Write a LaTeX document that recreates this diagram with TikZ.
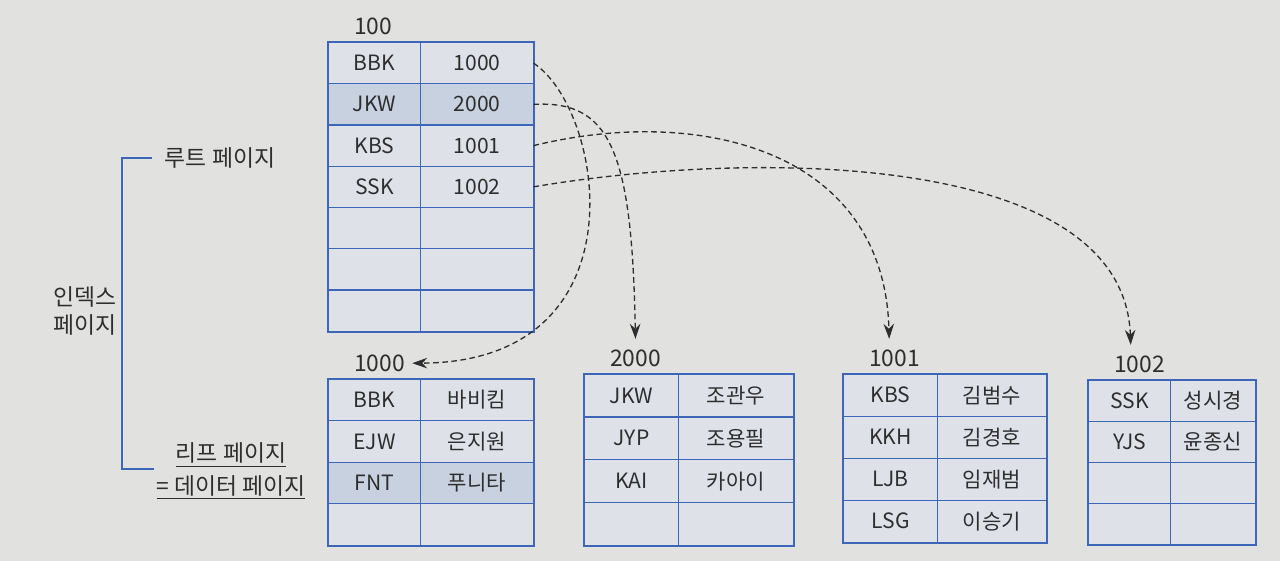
\documentclass[tikz,border=0pt]{standalone}
\usepackage{fontspec}
\setmainfont{Noto Sans CJK KR}
\usepackage{tikz}
\usetikzlibrary{
  matrix,
  arrows.meta,
  positioning
}
\definecolor{pageblue}{HTML}{3D66B8}
\definecolor{cellfill}{HTML}{DEE2E8}
\definecolor{rowmark}{HTML}{C8D1E0}
\definecolor{paper}{HTML}{E1E1DF}
\definecolor{inkgray}{HTML}{2E2E2E}
\tikzstyle{pagetable} = [
  matrix of nodes, nodes in empty cells,
  inner sep=0pt, outer sep=0pt, row sep=-0.6pt, column sep=-0.6pt,
  nodes={draw=pageblue, line width=0.6pt, fill=cellfill, inner sep=0pt,
    outer sep=0pt, anchor=center, text=inkgray,
    font=\fontsize{12}{14}\selectfont}
]
\tikzstyle{tableframe} = [draw=pageblue, line width=1.1pt]
\tikzstyle{pagelabel} = [inner sep=1pt, text=inkgray, font=\fontsize{13}{15}\selectfont]
\tikzstyle{sidelabel} = [inner sep=1pt, text=inkgray, font=\fontsize{13}{16}\selectfont]
\tikzstyle{bracket} = [draw=pageblue, line width=1pt]
\tikzstyle{pointer} = [-{Stealth[length=3mm,width=2.1mm]}, draw=inkgray,
  line width=0.75pt, dash pattern=on 3.2pt off 2pt]

\begin{document}
\begin{tikzpicture}[x=0.02cm, y=-0.02cm]

\fill[paper] (0,0) rectangle (1280,561);
\useasboundingbox (0,0) rectangle (1280,561);

% --- Index (root) page ---
\matrix (root) [pagetable, anchor=north west,
  column 1/.style={nodes={minimum width=1.84cm}},
  column 2/.style={nodes={minimum width=2.26cm}},
  row 2/.style={nodes={fill=rowmark}},
  nodes={minimum height=0.825cm}] at (328,42) {
  BBK & 1000 \\
  JKW & 2000 \\
  KBS & 1001 \\
  SSK & 1002 \\
      &      \\
      &      \\
      &      \\
};
\draw[tableframe] (root.north west) rectangle (root.south east);

% --- Leaf (data) pages ---
\matrix (t1000) [pagetable, below right=0.94cm and 0cm of root.south west,
  column 1/.style={nodes={minimum width=1.84cm}},
  column 2/.style={nodes={minimum width=2.26cm}},
  row 3/.style={nodes={fill=rowmark}},
  nodes={minimum height=0.83cm}] {
  BBK & 바비킴 \\
  EJW & 은지원 \\
  FNT & 푸니타 \\
      &        \\
};
\draw[tableframe] (t1000.north west) rectangle (t1000.south east);

\matrix (t2000) [pagetable, right=1cm of t1000.north east, anchor=north west, yshift=0.1cm,
  column 1/.style={nodes={minimum width=1.88cm}},
  column 2/.style={nodes={minimum width=2.3cm}},
  nodes={minimum height=0.855cm}] {
  JKW & 조관우 \\
  JYP & 조용필 \\
  KAI & 카아이 \\
      &        \\
};
\draw[tableframe] (t2000.north west) rectangle (t2000.south east);

\matrix (t1001) [pagetable, right=0.98cm of t2000.north east, anchor=north west,
  column 1/.style={nodes={minimum width=1.88cm}},
  column 2/.style={nodes={minimum width=2.18cm}},
  nodes={minimum height=0.84cm}] {
  KBS & 김범수 \\
  KKH & 김경호 \\
  LJB & 임재범 \\
  LSG & 이승기 \\
};
\draw[tableframe] (t1001.north west) rectangle (t1001.south east);

\matrix (t1002) [pagetable, right=0.82cm of t1001.north east, anchor=north west, yshift=-0.12cm,
  column 1/.style={nodes={minimum width=1.64cm}},
  column 2/.style={nodes={minimum width=1.7cm}},
  nodes={minimum height=0.82cm}] {
  SSK & 성시경 \\
  YJS & 윤종신 \\
      &        \\
      &        \\
};
\draw[tableframe] (t1002.north west) rectangle (t1002.south east);

% --- Page numbers ---
\node[pagelabel, above right=0.1cm and 0.48cm of root.north west] (lbl100) {100};
\node[pagelabel, above right=0.1cm and 0.48cm of t1000.north west] (lbl1000) {1000};
\node[pagelabel, above right=0.1cm and 0.48cm of t2000.north west] (lbl2000) {2000};
\node[pagelabel, above right=0.1cm and 0.48cm of t1001.north west] (lbl1001) {1001};
\node[pagelabel, above right=0.1cm and 0.48cm of t1002.north west] (lbl1002) {1002};

% --- Pointers ---
\draw[pointer] (root-1-2.east) .. controls (605,110) and (645,362) .. ([xshift=3pt]lbl1000.east);
\draw[pointer] (root-2-2.east) .. controls (610,100) and (632,150) .. ([yshift=5pt]lbl2000.north);
\draw[pointer] (root-3-2.east) .. controls (700,105) and (884,150) .. ([xshift=-3pt,yshift=5pt]lbl1001.north);
\draw[pointer] (root-4-2.east) .. controls (750,150) and (1124,150) .. ([xshift=-5pt,yshift=5pt]lbl1002.north);

% --- Side labels ---
\node[sidelabel] (rootside) at (220,158) {루트 페이지};
\node[sidelabel] (leafside) at (231,455) {\underline{리프 페이지}};
\node[sidelabel, below=0.08cm of leafside] (dataside) {\underline{= 데이터 페이지}};
\node[sidelabel, align=left] (indexside) at (85,311) {인덱스\\페이지};
\draw[bracket] ([xshift=-0.22cm]rootside.west) -- ++(-30,0) |- ([xshift=-0.4cm]leafside.south west);

\end{tikzpicture}
\end{document}
